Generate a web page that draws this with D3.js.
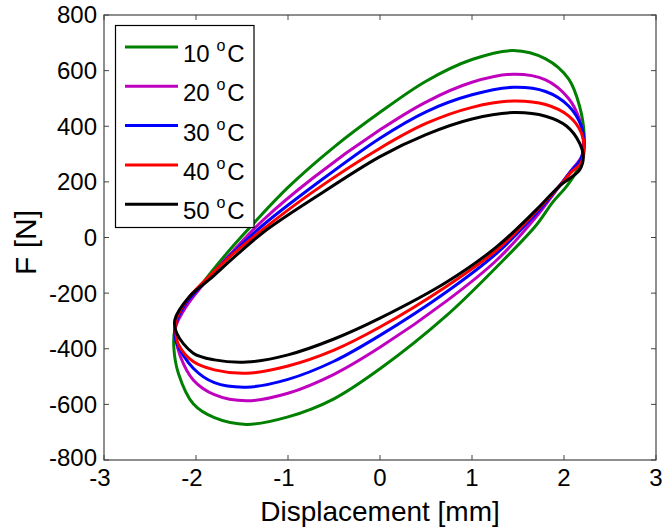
<!DOCTYPE html>
<html><head><meta charset="utf-8">
<script src="https://cdn.jsdelivr.net/npm/d3@7/dist/d3.min.js"></script>
<style>
html,body{margin:0;padding:0;background:#fff;}
text{font-family:"Liberation Sans",Arial,sans-serif;fill:#000;}
</style></head>
<body><svg id="c" width="663" height="528"></svg>
<script>
const labels = ["10", "20", "30", "40", "50"];
const colors = ["#008000", "#bf00bf", "#0000ff", "#ff0000", "#000000"];
const xTicks = [-3, -2, -1, 0, 1, 2, 3];
const yTicks = [-800, -600, -400, -200, 0, 200, 400, 600, 800];

// Each loop: [displacement mm, force N], upper branch left->right, then lower branch right->left
const loop10 = [[-2.23,-330],[-2.15,-262],[-2.0,-195],[-1.8,-110],[-1.5,5],[-1.0,180],[-0.5,325],[0,450],[0.5,562],[1.0,640],[1.45,672],[1.8,642],[2.05,570],[2.17,471],[2.22,363],
  [2.2,290],[2.14,240],[2.03,185],[1.88,128],[1.7,45],[1.27,-105],[0.725,-280],[0,-472],[-0.5,-580],[-1.0,-645],[-1.45,-672],[-1.8,-648],[-2.03,-598],[-2.19,-490],[-2.24,-400]];
const loop20 = [[-2.22,-320],[-2.1,-245],[-1.95,-180],[-1.6,-50],[-1.27,63],[-0.725,215],[0,387],[0.5,487],[1.0,558],[1.45,587],[1.8,567],[2.05,500],[2.17,423],[2.21,351],
  [2.19,290],[2.1,250],[1.95,185],[1.7,75],[1.27,-81],[0.725,-228],[0,-395],[-0.5,-492],[-1.0,-560],[-1.45,-587],[-1.8,-565],[-2.03,-512],[-2.17,-428],[-2.22,-360]];
const loop30 = [[-2.22,-310],[-2.1,-232],[-1.92,-165],[-1.6,-55],[-1.27,45],[-0.725,185],[0,357],[0.5,452],[1.0,513],[1.45,540],[1.8,525],[2.05,473],[2.19,399],[2.22,327],
  [2.18,280],[2.08,240],[1.95,185],[1.7,87],[1.27,-56],[0.725,-195],[0,-352],[-0.5,-445],[-1.0,-510],[-1.45,-538],[-1.8,-522],[-2.03,-470],[-2.21,-380],[-2.23,-345]];
const loop40 = [[-2.22,-300],[-2.1,-225],[-1.92,-160],[-1.6,-60],[-1.27,30],[-0.725,165],[0,321],[0.5,410],[1.0,468],[1.45,491],[1.8,478],[2.05,437],[2.19,375],[2.22,315],
  [2.18,265],[2.08,235],[1.95,185],[1.7,95],[1.27,-45],[0.725,-175],[0,-322],[-0.5,-405],[-1.0,-462],[-1.45,-488],[-1.8,-476],[-2.03,-446],[-2.19,-385],[-2.22,-340]];
const loop50 = [[-2.23,-296],[-2.07,-212],[-1.85,-150],[-1.6,-75],[-1.27,18],[-0.725,140],[0,291],[0.5,370],[1.0,426],[1.45,449],[1.8,436],[2.03,400],[2.17,339],[2.21,290],
  [2.17,243],[1.95,185],[1.7,100],[1.27,-33],[0.725,-160],[0,-290],[-0.5,-365],[-1.0,-422],[-1.45,-448],[-1.8,-440],[-2.03,-416],[-2.21,-344]];
const loops = [loop10, loop20, loop30, loop40, loop50];

const L = 104, R = 656, T = 15, B = 460;
const svg = d3.select("#c");
const x = d3.scaleLinear().domain([-3, 3]).range([L, R]);
const y = d3.scaleLinear().domain([-800, 800]).range([B, T]);

const axisCol = "#444";
svg.append("rect").attr("x", L).attr("y", T).attr("width", R - L).attr("height", B - T)
  .attr("fill", "none").attr("stroke", axisCol).attr("stroke-width", 1.2);

const tl = 5;
xTicks.forEach(t => {
  svg.append("line").attr("x1", x(t)).attr("x2", x(t)).attr("y1", B).attr("y2", B - tl).attr("stroke", axisCol);
  svg.append("line").attr("x1", x(t)).attr("x2", x(t)).attr("y1", T).attr("y2", T + tl).attr("stroke", axisCol);
  svg.append("text").attr("x", x(t) - (t < 0 ? 4 : 0)).attr("y", B + 26).attr("text-anchor", "middle")
    .attr("font-size", 24).text(t < 0 ? "-" + Math.abs(t) : t);
});
yTicks.forEach(t => {
  svg.append("line").attr("x1", L).attr("x2", L + tl).attr("y1", y(t)).attr("y2", y(t)).attr("stroke", axisCol);
  svg.append("line").attr("x1", R).attr("x2", R - tl).attr("y1", y(t)).attr("y2", y(t)).attr("stroke", axisCol);
  svg.append("text").attr("x", L - 7).attr("y", y(t) + (t === -800 ? -2 : 0)).attr("dy", "0.35em").attr("text-anchor", "end")
    .attr("font-size", 24).text(t < 0 ? "-" + Math.abs(t) : t);
});

const line = d3.line().x(d => x(d[0])).y(d => y(d[1])).curve(d3.curveCatmullRomClosed.alpha(0.5));
loops.forEach((lp, i) => {
  svg.append("path").attr("d", line(lp)).attr("fill", "none").attr("stroke", colors[i])
    .attr("stroke-width", 3).attr("stroke-linejoin", "round");
});

svg.append("text").attr("x", x(0)).attr("y", 521).attr("text-anchor", "middle").attr("font-size", 28)
  .text("Displacement [mm]");
svg.append("text").attr("transform", `translate(36,${(T + B) / 2 + 5}) rotate(-90)`).attr("text-anchor", "middle")
  .attr("font-size", 30).text("F [N]");

const lg = svg.append("g");
lg.append("rect").attr("x", 115.5).attr("y", 25.5).attr("width", 138.5).attr("height", 202)
  .attr("fill", "#fff").attr("stroke", "#000").attr("stroke-width", 1.2);
labels.forEach((lab, i) => {
  const yy = 47 + i * 39.3;
  lg.append("line").attr("x1", 125).attr("x2", 178).attr("y1", yy).attr("y2", yy)
    .attr("stroke", colors[i]).attr("stroke-width", 3);
  const t = lg.append("text").attr("x", 183).attr("y", yy + 15).attr("font-size", 24);
  t.append("tspan").text(lab + " ");
  t.append("tspan").attr("font-size", 16).attr("dy", -11).text("o");
  t.append("tspan").attr("dy", 11).attr("dx", 2).text("C");
});
</script></body></html>
